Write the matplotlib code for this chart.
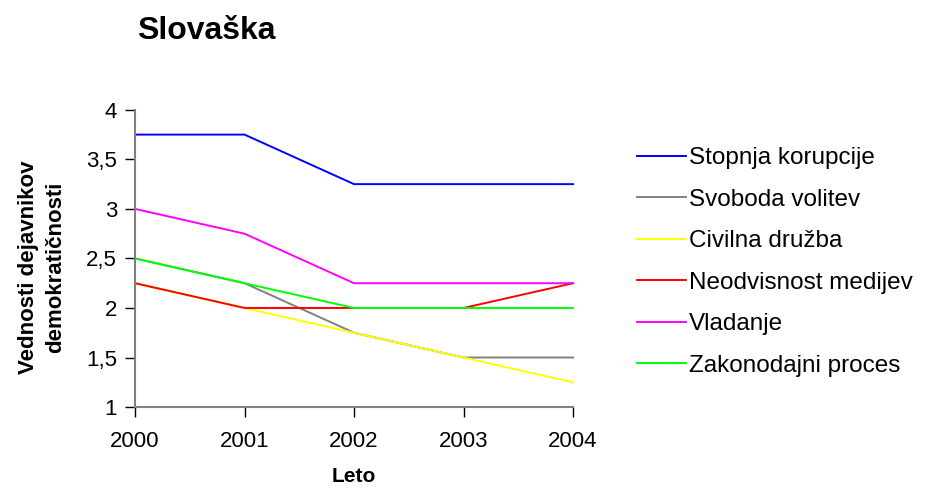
import matplotlib.pyplot as plt
from matplotlib.ticker import FuncFormatter

plt.rcParams['font.family'] = ['Liberation Sans', 'DejaVu Sans']

leta = ["2000", "2001", "2002", "2003", "2004"]
stopnja_korupcije = [3.75, 3.75, 3.25, 3.25, 3.25]
svoboda_volitev = [2.5, 2.25, 1.75, 1.5, 1.5]
civilna_druzba = [2.25, 2.0, 1.75, 1.5, 1.25]
neodvisnost_medijev = [2.25, 2.0, 2.0, 2.0, 2.25]
vladanje = [3.0, 2.75, 2.25, 2.25, 2.25]
zakonodajni_proces = [2.5, 2.25, 2.0, 2.0, 2.0]

serije = [
    ("Stopnja korupcije", stopnja_korupcije, "#0000ff"),
    ("Svoboda volitev", svoboda_volitev, "#808080"),
    ("Civilna družba", civilna_druzba, "#ffff00"),
    ("Neodvisnost medijev", neodvisnost_medijev, "#ff0000"),
    ("Vladanje", vladanje, "#ff00ff"),
    ("Zakonodajni proces", zakonodajni_proces, "#00ff00"),
]

fig = plt.figure(figsize=(9.32, 4.97), dpi=100)
ax = fig.add_axes([0.1449, 0.181, 0.470, 0.598])

x = range(len(leta))
for ime, vrednosti, barva in serije:
    ax.plot(x, vrednosti, color=barva, linewidth=1.4, label=ime, clip_on=False)

ax.set_xlim(0, len(leta) - 1)
ax.set_ylim(1, 4)
ax.set_xticks(list(x))
ax.set_xticklabels(leta)
ax.set_yticks([1, 1.5, 2, 2.5, 3, 3.5, 4])
ax.yaxis.set_major_formatter(FuncFormatter(lambda v, p: f"{v:g}".replace(".", ",")))

for s in ["top", "right"]:
    ax.spines[s].set_visible(False)
for s in ["left", "bottom"]:
    ax.spines[s].set_color("#808080")
    ax.spines[s].set_linewidth(1.5)
ax.tick_params(axis="both", direction="out", length=7, width=1, color="#000000",
               labelsize=16, pad=6)
ax.tick_params(axis="x", pad=10)

ax.set_xlabel("Leto", fontsize=15, fontweight="bold", va="center")
ax.xaxis.set_label_coords(0.5, -0.235)
ax.set_ylabel("Vednosti dejavnikov\ndemokratičnosti", fontsize=16,
              fontweight="bold", va="center", ha="center", linespacing=1.4)
ax.yaxis.set_label_coords(-0.212, 0.47)

fig.text(0.147, 0.937, "Slovaška", fontsize=23, fontweight="bold", va="center")

ax.legend(loc="center left", bbox_to_anchor=(1.146, 0.488), frameon=False,
          fontsize=17.5, handlelength=2.0, handletextpad=0.15, labelspacing=0.8,
          borderpad=0, borderaxespad=0)

plt.savefig("out.png", dpi=100)
plt.close()
